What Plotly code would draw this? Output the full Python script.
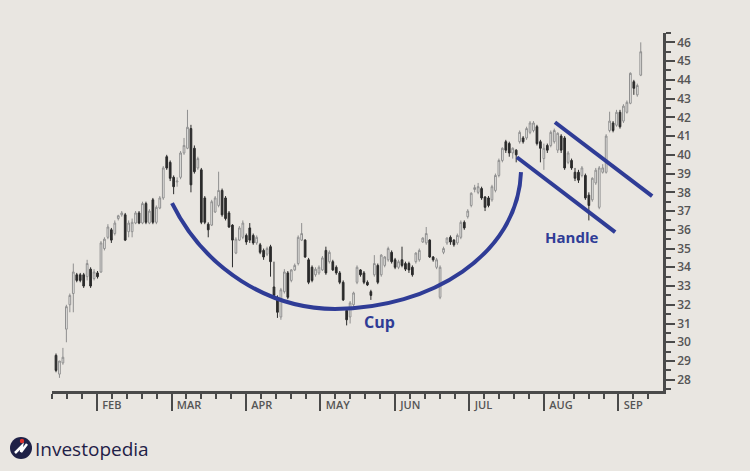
import plotly.graph_objects as go

# ---------------- data ----------------
open_ = [29.3, 28.3, 28.9, 30.7, 32.0, 32.6, 33.6, 33.6, 33.6, 33.5,
         33.9, 33.4, 33.7, 33.75, 35.0, 35.6, 36.0, 35.8, 36.6, 36.8,
         36.8, 35.9, 35.9, 36.36, 36.9, 36.36, 37.4, 36.36, 37.6, 36.4,
         37.16, 37.7, 39.9, 39.6, 38.8, 38.55, 38.8, 40.1, 40.35, 41.4,
         40.35, 39.3, 39.2, 37.7, 36.3, 36.25, 36.95, 37.3, 38.1, 37.7,
         36.9, 36.25, 34.76, 35.45, 35.6, 35.7, 36.1, 35.7, 35.3, 35.2,
         34.9, 34.7, 35.1, 32.95, 32.4, 31.35, 32.7, 33.7, 33.3, 33.86,
         34.2, 35.45, 35.45, 34.4, 34.0, 33.6, 33.7, 33.86, 34.9, 34.3,
         34.3, 34.0, 33.7, 33.2, 31.7, 31.35, 32.0, 33.2, 33.86, 33.7,
         33.2, 32.7, 33.6, 34.1, 33.6, 34.1, 34.4, 34.8, 34.4, 34.0,
         34.4, 34.2, 34.2, 34.0, 34.3, 34.4, 35.35, 35.3, 35.45, 34.55,
         34.0, 32.4, 34.8, 35.3, 35.6, 35.45, 35.3, 35.6, 36.4, 36.7,
         37.3, 38.15, 38.0, 38.2, 37.75, 37.7, 37.6, 38.1, 38.9, 39.7,
         40.7, 40.6, 40.1, 40.25, 40.7, 40.9, 40.9, 41.2, 41.3, 41.5,
         40.7, 39.8, 40.5, 40.5, 40.7, 40.25, 41.0, 40.9, 39.6, 39.7,
         39.07, 39.07, 38.9, 38.9, 37.85, 37.6, 38.5, 37.2, 39.07, 39.07,
         41.3, 41.7, 41.58, 42.27, 41.8, 42.27, 42.75, 43.9, 43.2, 44.25]
high = [29.4, 29.0, 29.7, 32.0, 32.6, 34.2, 33.7, 33.7, 33.7, 34.4,
        34.0, 33.9, 33.8, 35.4, 35.6, 36.3, 36.1, 36.5, 36.8, 37.0,
        36.9, 36.5, 36.6, 37.0, 37.0, 37.5, 37.5, 37.1, 37.7, 37.3,
        37.8, 39.4, 40.0, 39.7, 38.9, 38.8, 40.2, 40.9, 42.4, 41.6,
        40.5, 39.9, 39.3, 37.8, 36.4, 37.6, 37.8, 39.1, 38.2, 37.8,
        37.0, 36.3, 35.6, 36.2, 36.5, 35.8, 36.36, 35.8, 35.7, 35.3,
        35.0, 35.1, 35.2, 34.3, 32.5, 32.9, 33.9, 33.8, 33.9, 34.2,
        35.7, 36.36, 35.5, 34.5, 34.1, 34.0, 34.1, 34.6, 35.1, 34.9,
        34.4, 34.1, 33.8, 33.3, 31.8, 32.2, 32.7, 34.1, 33.9, 33.8,
        33.3, 32.8, 34.65, 34.2, 34.7, 34.6, 35.1, 34.9, 34.5, 34.4,
        35.1, 34.3, 34.3, 34.1, 34.8, 35.0, 35.6, 36.15, 35.5, 34.6,
        34.5, 34.1, 35.1, 35.6, 35.7, 35.5, 35.8, 36.5, 36.5, 37.1,
        38.0, 38.4, 38.5, 38.3, 37.8, 37.8, 38.4, 39.0, 39.8, 40.4,
        40.8, 40.7, 40.4, 40.3, 41.3, 41.0, 41.5, 41.8, 41.8, 41.6,
        40.8, 40.6, 40.6, 41.3, 41.4, 41.2, 41.1, 41.0, 40.2, 39.8,
        39.3, 39.2, 39.4, 39.0, 38.0, 38.8, 39.3, 39.4, 39.5, 41.1,
        42.3, 41.8, 42.4, 42.4, 42.7, 42.9, 44.4, 44.0, 43.8, 46.0]
low = [28.4, 28.1, 28.8, 30.0, 31.6, 31.6, 33.2, 33.2, 32.9, 33.3,
       32.9, 33.3, 33.4, 33.7, 34.9, 35.5, 35.3, 35.7, 36.5, 36.7,
       35.4, 35.6, 35.6, 36.3, 36.3, 36.3, 36.3, 36.3, 36.3, 36.3,
       37.1, 37.6, 39.2, 38.6, 37.9, 38.3, 38.7, 40.0, 40.3, 38.0,
       39.0, 39.2, 36.3, 36.3, 35.6, 36.2, 36.9, 37.2, 36.7, 36.5,
       36.1, 34.0, 34.7, 35.4, 35.5, 35.2, 35.3, 35.2, 35.2, 34.7,
       34.4, 34.6, 33.5, 32.4, 31.3, 31.2, 32.6, 32.3, 33.2, 33.8,
       34.1, 35.4, 34.5, 33.1, 33.2, 33.5, 33.6, 33.8, 33.6, 34.2,
       33.8, 33.6, 33.1, 32.2, 30.9, 31.0, 31.9, 33.1, 33.5, 33.1,
       33.0, 32.26, 33.5, 33.1, 33.5, 34.0, 34.3, 34.2, 33.9, 33.9,
       34.0, 33.8, 33.7, 33.5, 34.2, 34.3, 35.3, 35.2, 34.5, 34.3,
       33.9, 32.3, 34.7, 35.2, 35.2, 35.1, 35.2, 35.5, 36.0, 36.6,
       37.2, 38.0, 37.9, 37.6, 37.0, 37.2, 37.5, 38.0, 38.8, 39.6,
       40.1, 39.9, 39.8, 39.6, 40.6, 40.6, 40.8, 41.1, 41.2, 40.5,
       39.6, 39.2, 40.1, 40.4, 40.6, 40.1, 40.1, 39.2, 39.5, 39.2,
       38.6, 38.5, 38.8, 37.6, 36.5, 37.5, 38.4, 37.1, 39.0, 39.0,
       41.2, 41.2, 41.5, 41.4, 41.7, 42.2, 42.7, 43.2, 43.1, 44.2]
close = [28.5, 29.0, 29.2, 31.9, 32.5, 33.75, 33.3, 33.3, 33.0, 34.2,
         33.0, 33.75, 33.5, 35.3, 35.5, 36.15, 35.45, 36.36, 36.75, 36.9,
         35.45, 36.36, 36.4, 36.9, 36.36, 37.4, 36.4, 37.0, 36.4, 37.2,
         37.7, 39.3, 39.3, 38.75, 38.3, 38.6, 40.1, 40.5, 41.47, 38.4,
         39.1, 39.8, 36.4, 36.4, 36.0, 37.5, 37.7, 38.1, 36.8, 36.6,
         36.15, 35.45, 35.5, 36.1, 36.36, 35.35, 35.45, 35.3, 35.6, 34.8,
         34.55, 35.0, 34.3, 32.5, 31.6, 32.8, 33.75, 32.4, 33.86, 34.1,
         35.6, 35.8, 34.55, 33.2, 33.3, 33.9, 34.0, 34.5, 33.7, 34.8,
         33.86, 33.7, 33.2, 32.26, 31.2, 32.1, 32.63, 34.0, 33.6, 33.2,
         33.06, 32.5, 34.2, 33.2, 34.65, 34.55, 35.0, 34.3, 34.0, 34.3,
         34.1, 33.9, 33.86, 33.6, 34.76, 34.9, 35.56, 35.8, 34.55, 34.4,
         34.4, 34.0, 35.0, 35.56, 35.35, 35.2, 35.7, 36.4, 36.1, 37.0,
         37.95, 38.25, 38.3, 37.7, 37.2, 37.3, 38.3, 38.9, 39.7, 40.35,
         40.25, 40.1, 40.35, 40.0, 41.2, 40.7, 41.4, 41.7, 41.7, 40.6,
         40.35, 40.35, 40.25, 41.2, 41.3, 41.15, 40.25, 39.3, 40.1, 39.3,
         38.75, 38.65, 39.3, 37.7, 37.3, 38.75, 39.18, 39.3, 39.3, 41.0,
         41.8, 41.3, 42.27, 41.5, 42.6, 42.8, 44.35, 43.55, 43.7, 45.5]
days = list(range(len(close)))          # trading-day index

months = ["FEB", "MAR", "APR", "MAY", "JUN", "JUL", "AUG", "SEP"]
FIRST_MONTH_DAY = 11.85                 # trading-day index where FEB starts
MONTH_LEN = 21.53                       # trading days per month on this axis
month_days = [FIRST_MONTH_DAY + k * MONTH_LEN for k in range(len(months))]

price_ticks = list(range(28, 47))

# pattern annotations (day index, price)
# cup: two cubic Bezier segments (start, ctrl, ctrl, bottom, ctrl, ctrl, end)
cup_days = [33.53, 43.06, 61.85, 80.64, 108.09, 133.53, 134.39]
cup_prices = [37.425, 33.857, 31.781, 31.781, 31.781, 34.656, 39.076]
handle_low_days = [133.2, 161.6]
handle_low_prices = [39.87, 35.88]
handle_high_days = [144.2, 172.3]
handle_high_prices = [41.74, 37.80]

# ---------------- styling ----------------
BG = "#e9e6e1"
AXIS = "#4a4a4a"
TEXT = "#555555"
BLUE = "#2f3c96"

fig = go.Figure()
fig.add_trace(go.Candlestick(
    x=days, open=open_, high=high, low=low, close=close,
    increasing=dict(line=dict(color="#8f8f8f", width=1), fillcolor="#f5f4f1"),
    decreasing=dict(line=dict(color="#2b2b2b", width=1), fillcolor="#2b2b2b"),
    whiskerwidth=0, hoverinfo="skip", showlegend=False,
))

pts = [f"{d},{p}" for d, p in zip(cup_days, cup_prices)]
cup_path = f"M {pts[0]} C {pts[1]} {pts[2]} {pts[3]} C {pts[4]} {pts[5]} {pts[6]}"
fig.add_shape(type="path", xref="x", yref="y", path=cup_path,
              line=dict(color=BLUE, width=4))
fig.add_trace(go.Scatter(x=handle_low_days, y=handle_low_prices, mode="lines",
                         line=dict(color=BLUE, width=4), hoverinfo="skip", showlegend=False))
fig.add_trace(go.Scatter(x=handle_high_days, y=handle_high_prices, mode="lines",
                         line=dict(color=BLUE, width=4), hoverinfo="skip", showlegend=False))

fig.add_annotation(x=93.4, y=31.09, text="<b>Cup</b>", showarrow=False,
                   font=dict(family="Open Sans", size=16, color=BLUE))
fig.add_annotation(x=149.1, y=35.61, text="<b>Handle</b>", showarrow=False,
                   font=dict(family="Open Sans", size=15, color=BLUE))

# logo
W, H = 611, 358
def px(xp):
    return (xp - 52) / W
def py(yp):
    return (391 - yp) / H
fig.add_shape(type="circle", xref="paper", yref="paper", xsizemode="pixel", ysizemode="pixel",
              xanchor=px(21), yanchor=py(448), x0=-11, x1=11, y0=-11, y1=11,
              fillcolor="#1f2147", line=dict(width=0))
fig.add_shape(type="path", xref="paper", yref="paper", xsizemode="pixel", ysizemode="pixel",
              xanchor=px(21), yanchor=py(448), path="M -6,-5 L 1,2 L 0,-4 L 6,4",
              line=dict(color="white", width=2.5))
fig.add_shape(type="circle", xref="paper", yref="paper", xsizemode="pixel", ysizemode="pixel",
              xanchor=px(22), yanchor=py(441), x0=-2.2, x1=2.2, y0=-2.2, y1=2.2,
              fillcolor="#e0332d", line=dict(width=0))
fig.add_annotation(xref="paper", yref="paper", x=px(33), y=py(449), xanchor="left", yanchor="middle",
                   text="Investopedia", showarrow=False,
                   font=dict(family="Open Sans", size=19, color="#1f2147"))

fig.update_layout(
    width=750, height=471,
    margin=dict(l=52, r=87, t=33, b=80),
    paper_bgcolor=BG, plot_bgcolor=BG,
    showlegend=False,
    xaxis=dict(
        range=[-1.156, 175.43], showgrid=False, zeroline=False,
        rangeslider=dict(visible=False),
        showline=True, linecolor=AXIS, linewidth=2.5,
        tickmode="array", tickvals=month_days, ticktext=months,
        ticks="outside", ticklen=17, tickwidth=2, tickcolor=AXIS,
        ticklabelposition="outside right", ticklabelshift=3, ticklabelstandoff=2,
        tickfont=dict(family="Open Sans", size=11, color=TEXT, weight=600),
        minor=dict(tick0=FIRST_MONTH_DAY, dtick=MONTH_LEN / 5, ticks="outside",
                   ticklen=5, tickwidth=2, tickcolor=AXIS, showgrid=False),
        fixedrange=True,
    ),
    yaxis=dict(
        side="right", range=[27.4, 46.5], showgrid=False, zeroline=False,
        showline=True, linecolor=AXIS, linewidth=2.5,
        tickmode="array", tickvals=price_ticks,
        ticks="outside", ticklen=9, tickwidth=2, tickcolor=AXIS,
        tickfont=dict(family="Open Sans", size=12, color=TEXT, weight=600),
        minor=dict(tick0=27.5, dtick=0.5, ticks="outside", ticklen=5, tickwidth=2,
                   tickcolor=AXIS, showgrid=False),
        fixedrange=True,
    ),
)

fig.write_html("out.html", config={"displayModeBar": False},
               post_script="document.body.style.margin='0px';"
                           "document.body.style.overflow='hidden';"
                           "document.body.style.background='" + BG + "';")
